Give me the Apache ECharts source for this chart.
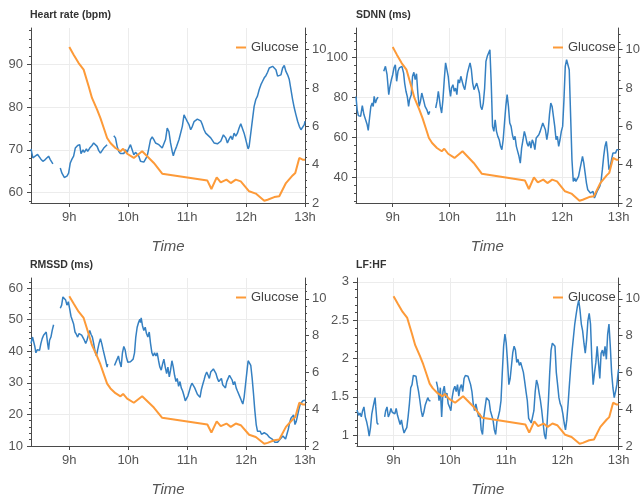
<!DOCTYPE html>
<html>
<head>
<meta charset="utf-8">
<script src="https://cdn.jsdelivr.net/npm/echarts@6/dist/echarts.min.js"></script>
<style>
  html, body { margin: 0; padding: 0; background: #fff; }
  #chart { width: 643px; height: 498px; }
</style>
</head>
<body>
<div id="chart"></div>
<script>
// Time values are minutes after 08:00. A null value marks a gap in the recording.
const hourTicks = [60, 120, 180, 240, 300];

const glucoseTime = [60.0, 64.4, 69.5, 74.6, 79.7, 83.1, 88.3, 91.7, 95.1, 98.5, 101.9, 107.0, 112.1, 114.8, 118.9, 125.7, 134.2, 146.1, 154.6, 200.6, 204.7, 210.1, 214.2, 220.0, 224.4, 229.5, 234.6, 243.1, 249.9, 258.5, 261.9, 268.7, 273.8, 280.6, 287.4, 290.1, 294.2, 297.6, 300.0];
const glucoseVal = [10.14, 9.74, 9.30, 8.96, 8.09, 7.48, 6.87, 6.43, 5.91, 5.39, 5.13, 4.87, 4.70, 4.83, 4.57, 4.35, 4.70, 4.09, 3.53, 3.17, 2.73, 3.34, 3.08, 3.22, 3.04, 3.22, 3.13, 2.61, 2.49, 2.12, 2.17, 2.31, 2.35, 3.04, 3.44, 3.57, 4.35, 4.26, 4.26];
const glucoseMajor = [2, 4, 6, 8, 10];
const glucoseMinor = [2.4, 2.8, 3.2, 3.6, 4.4, 4.8, 5.2, 5.6, 6.4, 6.8, 7.2, 7.6, 8.4, 8.8, 9.2, 9.6, 10.4, 10.8];

// Heart rate (bpm)
const hrTime = [21.0, 22.9, 25.3, 27.7, 29.7, 31.1, 33.1, 35.5, 37.2, 38.9, 40.6, 42.3, 43.3,
  47,
  50.8, 52.5, 54.9, 57.6, 59.3, 61.0, 62.7, 64.4, 66.1, 68.5, 70.6, 71.9, 74.0, 75.3, 77.4, 78.7, 80.8, 82.1, 83.1, 84.8, 86.6, 88.3, 90.0, 91.7, 93.4, 95.1, 96.8, 98.5,
  102,
  105.3, 107.0, 108.7, 110.4, 112.1, 113.8, 115.5, 117.2, 118.9, 120.6, 122.3, 124.0, 125.7, 127.4, 129.1, 130.8, 132.5, 134.2, 135.9, 137.6, 139.3, 141.0, 142.7, 144.4, 146.1, 147.8, 149.5, 151.2, 152.9, 154.6, 156.3, 158.0, 159.7,
  161.4, 163.1, 164.8, 165.9, 167.2, 169.3, 171.7, 173.4,
  175.1, 176.8, 178.5, 180.2, 181.9, 183.6, 185.3, 187.0, 190.4, 193.8, 195.5, 197.2, 198.9, 200.6, 204.0, 207.4, 210.8, 214.2, 216.9,
  219.3, 221.0, 222.7, 224.4, 226.1, 227.8, 229.5, 231.2, 232.9, 234.6, 236.3, 238.0, 239.7, 241.4, 242.1,
  243.1, 244.8, 246.5, 248.2, 249.9, 251.6, 253.3, 255.1, 256.8, 258.5, 260.2, 261.9, 263.6, 265.3, 267.0, 268.7, 270.4, 272.1, 273.8, 275.5, 277.2, 278.9, 280.6, 282.3, 284.0, 285.7, 287.4, 289.1, 290.8, 292.5, 294.2, 295.9, 297.6, 299.3, 300.0];
const hrVal = [70.2, 68.1, 68.5, 68.9, 68.6, 67.8, 67.3, 67.7, 68.1, 68.5, 67.7, 67.3, 66.7,
  null,
  65.7, 64.5, 63.5, 63.8, 64.5, 66.9, 67.8, 68.5, 70.4, 71.0, 71.2, 69.1, 70.0, 69.4, 70.2, 69.6, 70.4, 70.0, 71.0, 71.6, 72.0, 70.8, 69.8, 69.2, 69.6, 70.4, 70.8, 71.2,
  null,
  73.3, 72.8, 70.8, 69.6, 69.1, 68.8, 69.1, 70.0, 69.4, 70.4, 71.2, 70.0, 68.8, 69.4, 69.1, 68.5, 67.3, 67.7, 67.1, 67.3, 68.5, 70.4, 72.4, 73.0, 72.4, 71.6, 72.0, 71.2, 71.6, 70.4, 70.2, 72.4, 75.1,
  74.3, 71.6, 69.6, 68.6, 69.6, 70.8, 72.4, 72.8,
  75.5, 78.2, 77.4, 76.6, 75.9, 74.7, 75.5, 76.6, 77.2, 76.8, 75.9, 74.7, 73.9, 73.5, 72.8, 71.6, 71.4, 72.0, 73.5,
  72.8, 71.6, 72.5, 73.2, 72.4, 73.9, 73.2, 73.9, 75.1, 76.1, 75.9, 73.9, 72.4, 70.8, 70.2,
  70.8, 73.9, 77.1, 80.2, 81.8, 82.6, 84.1, 85.3, 86.1, 86.9, 87.4, 88.2, 89.2, 89.6, 89.6, 89.2, 88.8, 87.3, 86.9, 87.6, 89.2, 89.8, 88.4, 87.6, 86.5, 84.1, 81.8, 79.8, 78.2, 76.7, 75.5, 74.7, 74.7, 75.9, 76.7];
const hrMajor = [60, 70, 80, 90];
const hrMinor = [58, 62, 64, 66, 68, 72, 74, 76, 78, 82, 84, 86, 88, 92, 94, 96, 98];

// SDNN (ms)
const sdnnTime = [21.0, 22.2, 23.5, 25.9, 27.7, 29.4, 31.2, 32.9, 34.0, 35.4, 36.8, 38.2, 39.3, 40.3, 41.7, 43.1, 44.5,
  47.5,
  50.5, 52.3, 54.0, 55.8, 56.8, 58.6, 60.0, 61.4, 62.8, 64.2, 65.6, 67.0, 68.4, 69.8, 71.6, 72.7, 74.1, 75.5, 76.9, 77.9, 79.7, 81.1, 82.5, 83.9, 85.3, 86.7, 88.1, 89.5, 90.9, 92.7, 94.4, 96.2, 98.0, 99.4,
  102.5,
  105.7, 107.1, 108.5, 109.5, 110.6, 112.0, 113.4, 114.8, 116.2, 117.6, 119.0, 120.4, 121.5, 122.5,
  124.0, 125.4, 126.8, 128.2, 129.6, 131.0, 132.4, 133.8, 135.2, 136.6, 138.0, 139.4, 140.8, 142.2, 143.6, 145.0, 146.4, 147.9, 149.3, 150.7, 152.1, 153.5, 154.9, 156.3, 157.7,
  159.1, 160.5, 161.9, 163.3, 164.7, 166.1, 167.5, 168.9, 170.3, 171.7, 173.2, 174.6, 176.0, 177.4, 178.8, 180.2, 181.6, 183.0, 184.4, 185.8, 187.2, 188.6, 190.0, 191.4, 192.8,
  194.2, 195.6, 197.0, 198.5, 199.9, 201.3, 202.7, 204.1, 205.5, 206.9, 208.3, 209.7, 211.1, 212.5, 213.9, 215.3, 216.7, 218.1, 219.5, 220.9, 222.3, 223.8, 225.2, 226.6, 228.0,
  229.4, 230.8, 232.2, 233.6, 235.0, 236.4, 237.8, 239.2, 240.6, 242.0, 243.4, 244.8, 246.2, 247.6, 249.1, 250.5, 251.9, 253.3, 254.7, 256.1, 257.5, 258.9, 260.3, 261.7, 263.1,
  264.5, 265.9, 267.3, 268.7, 270.1, 271.5, 272.9, 274.4, 275.8, 277.2, 278.6, 280.0, 281.4, 282.8, 284.2, 285.6, 287.0, 288.4, 289.8, 291.2, 292.6, 294.0, 295.4, 296.8, 298.2,
  300.0];
const sdnnVal = [80.4, 73.8, 70.8, 70.4, 75.8, 71.3, 70.4, 66.2, 63.4, 69.6, 75.4, 77.1, 75.4, 80.4, 77.1, 79.1, 80.1,
  null,
  93.0, 95.5, 91.3, 81.3, 84.6, 88.8, 91.3, 94.7, 96.3, 88.0, 93.0, 94.7, 95.5, 95.5, 92.1, 87.1, 83.0, 80.4, 75.4, 78.8, 81.3, 90.5, 92.5, 88.8, 91.8, 82.1, 75.4, 77.9, 82.1, 78.8, 75.4, 73.8, 71.3, 72.9,
  null,
  74.6, 77.9, 83.0, 79.6, 75.4, 72.1, 78.8, 88.8, 97.2, 96.3, 90.5, 83.8, 80.4, 84.6,
  86.3, 83.0, 84.6, 81.3, 88.8, 87.1, 90.5, 91.3, 85.5, 83.8, 88.0, 92.1, 94.7, 97.2, 93.8, 87.1, 83.8, 85.5, 87.1, 86.3, 82.1, 75.4, 73.8, 77.1, 84.6,
  98.0, 100.5, 101.3, 103.8, 87.1, 65.4, 62.9, 68.7, 62.9, 60.4, 58.7, 55.4, 53.7, 58.7, 67.1, 75.4, 81.3, 75.4, 67.1, 65.4, 61.2, 58.7, 60.4, 55.4, 52.9,
  50.4, 47.0, 54.5, 58.7, 62.9, 60.4, 57.0, 55.4, 57.9, 54.5, 58.7, 57.0, 53.7, 59.6, 60.4, 61.2, 62.9, 62.1, 67.1, 67.9, 63.7, 58.7, 62.9, 71.3, 77.1,
  75.4, 70.4, 65.4, 58.7, 60.4, 55.4, 58.7, 62.9, 65.4, 78.8, 95.5, 98.8, 98.8, 93.8, 70.4, 48.7, 37.8, 39.5, 37.8, 37.0, 40.3, 43.7, 47.0, 50.4, 47.0,
  42.0, 37.0, 33.6, 32.8, 32.0, 31.1, 32.8, 29.5, 31.1, 32.8, 32.0, 35.3, 37.8, 43.7, 50.4, 55.4, 57.9, 52.0, 43.7, 45.3, 48.7, 52.0, 52.9, 52.0, 53.7,
  53.7];
const sdnnMajor = [40, 60, 80, 100];
const sdnnMinor = [28, 32, 36, 44, 48, 52, 56, 64, 68, 72, 76, 84, 88, 92, 96, 104, 108, 112];

// RMSSD (ms)
const rmssdTime = [21.0, 22.6, 23.6, 24.9, 26.0, 27.3, 28.3, 29.7, 31.1, 32.4, 33.8, 35.2, 36.5, 37.9, 38.9, 39.9, 41.3, 42.6, 44.0,
  47.5,
  50.8, 52.2, 53.5, 54.9, 56.3, 57.6, 59.0, 60.3, 61.7, 63.1, 64.4, 65.8, 67.1, 68.5, 69.9, 71.2, 72.6, 74.0, 75.3, 76.7, 78.0, 79.4, 80.8, 82.1, 83.5, 84.8, 86.2, 87.6, 88.9, 90.3, 91.7, 93.0, 94.4, 95.7, 97.1, 98.5, 99.1,
  102.5,
  106.0, 107.3, 108.7, 110.0, 111.4, 112.8, 114.1, 115.5, 116.8, 118.2, 119.6, 120.9, 122.3, 123.7, 125.0, 126.4, 127.7, 129.1, 130.5, 131.8,
  132.5, 133.2,
  134.5, 135.9, 137.3, 138.6, 140.0, 141.4, 142.7, 144.1, 145.4, 146.8, 148.2, 149.5, 150.9, 152.2, 153.6, 155.0, 156.3, 157.7, 159.1, 160.4, 161.8, 163.1, 164.5, 165.9, 167.2,
  168.6, 169.9, 171.3, 172.7, 174.0, 175.4, 176.8, 178.1, 179.5, 180.8, 182.2, 183.6, 184.9, 186.3, 187.7, 189.0, 190.4, 191.7, 193.1, 194.5, 195.8, 197.2, 198.5, 199.9, 201.3,
  202.6, 204.0, 205.4, 206.7, 208.1, 209.4, 210.8, 212.2, 213.5, 214.9, 216.2, 217.6, 219.0, 220.3, 221.7, 223.1, 224.4, 225.8, 227.1, 228.5, 229.9, 231.2, 232.6, 233.9, 235.3,
  236.7, 238.0, 239.4, 240.8, 242.1, 243.5, 244.8, 246.2, 247.6, 248.9, 250.3, 251.6, 253.0, 254.4, 255.7, 257.1, 258.5, 259.8, 261.2, 262.5, 263.9, 265.3, 266.6, 268.0, 269.3,
  270.7, 272.1, 273.4, 274.8, 276.2, 277.5, 278.9, 280.2, 281.6, 283.0, 284.3, 285.7, 287.0, 288.4, 289.8, 291.1, 292.5, 293.9, 295.2, 296.6, 297.9, 299.3,
  300.0];
const rmssdVal = [42.5, 44.5, 44.0, 41.5, 39.5, 40.5, 41.0, 40.3, 42.5, 44.0, 45.1, 44.5, 46.1, 42.5, 40.5, 43.5, 44.5, 46.6, 48.4,
  null,
  53.6, 54.6, 57.2, 57.5, 56.2, 54.6, 55.7, 53.6, 51.1, 50.6, 48.6, 46.1, 45.4, 44.5, 45.6, 46.1, 45.1, 44.5, 43.5, 42.5, 43.5, 45.1, 46.6, 45.4, 44.5, 42.5, 40.0, 38.5, 40.5, 42.5, 44.0, 42.5, 40.5, 40.3, 37.0, 35.0, 36.0,
  null,
  35.5, 36.0, 37.5, 38.5, 36.5, 35.0, 39.5, 41.5, 40.5, 38.0, 36.5, 37.0, 36.7, 36.7, 37.5, 39.5, 44.5, 47.6, 49.1, 50.1,
  49.1, 50.6,
  48.1, 46.6, 47.6, 45.6, 44.5, 46.1, 42.5, 39.5, 38.5, 39.5, 38.5, 39.5, 37.0, 35.0, 34.0, 36.0, 37.5, 35.0, 32.9, 35.0, 31.9, 34.0, 37.0, 35.0, 32.4,
  30.4, 31.4, 28.9, 30.4, 28.4, 27.4, 25.9, 24.3, 23.8, 25.9, 27.4, 28.9, 29.9, 29.4, 28.4, 27.9, 26.4, 25.9, 25.4, 27.9, 29.4, 30.9, 32.4, 33.4, 32.4,
  31.4, 33.4, 32.9, 34.4, 33.9, 32.9, 31.4, 30.4, 29.9, 31.4, 29.4, 28.9, 28.4, 30.4, 31.4, 32.4, 32.9, 30.9, 29.4, 30.4, 28.4, 27.4, 26.9, 25.4, 24.3,
  23.3, 25.4, 29.4, 33.4, 37.0, 37.0, 35.5, 31.4, 26.4, 21.3, 16.8, 14.7, 14.2, 14.7, 13.7, 14.2, 14.2, 13.7, 13.7, 13.2, 12.7, 12.2, 12.2, 12.2, 11.2,
  10.9, 11.2, 11.7, 12.2, 12.7, 13.2, 13.0, 12.2, 12.4, 15.3, 17.3, 18.8, 19.3, 19.8, 16.8, 17.8, 19.8, 21.8, 23.3, 23.8, 24.3, 24.8,
  24.5];
const rmssdMajor = [10, 20, 30, 40, 50, 60];
const rmssdMinor = [12, 14, 16, 18, 22, 24, 26, 28, 32, 34, 36, 38, 42, 44, 46, 48, 52, 54, 56, 58, 62];

// LF:HF
const lfhfTime = [21.0, 22.8, 24.2, 25.6, 27.0, 28.4, 29.8, 31.2, 32.6, 34.0, 35.4, 36.8, 38.2, 39.6, 40.3, 41.0, 42.4, 43.8,
  47.5,
  50.5, 51.6, 53.0, 54.4, 55.8, 57.2, 58.6, 60.0, 61.4, 62.8, 64.2, 65.6, 67.0, 68.4, 69.8, 71.2, 72.7, 74.1, 75.5, 76.9, 78.3, 79.7, 81.1, 82.5, 83.9, 85.3, 86.7, 88.1, 89.5, 90.9, 92.3, 93.7, 95.1, 96.5, 98.0, 99.4,
  102.5,
  105.7, 107.1, 108.5, 109.9, 111.3, 112.7, 114.1, 115.5, 116.9, 118.3, 119.7, 121.1, 122.5, 123.9, 125.4, 126.8, 128.2, 129.6, 131.0, 132.4,
  133.8, 135.2, 136.6, 138.0, 139.4, 140.8, 142.2, 143.6, 145.0, 146.4, 147.8, 149.3, 150.7, 152.1, 153.5, 154.9, 156.3, 157.7, 159.1, 160.5,
  161.9, 163.3, 164.7, 166.1, 167.5, 168.9, 170.3, 171.7, 173.2, 174.6, 176.0, 177.4, 178.8, 180.2, 181.6, 183.0, 184.4, 185.8, 187.2, 188.6,
  190.0, 191.4, 192.8, 194.2, 195.6, 197.0, 198.5, 199.9, 201.3, 202.7, 204.1, 205.5, 206.9, 208.3, 209.7, 211.1, 212.5, 213.9, 215.3, 216.7,
  218.1, 219.5, 220.9, 222.3, 223.8, 225.2, 226.6, 228.0, 229.4, 230.8, 232.2, 233.6, 235.0, 236.4, 237.8, 239.2, 240.6, 242.0, 243.4, 244.8,
  246.2, 247.6, 249.1, 250.5, 251.9, 253.3, 254.7, 256.1, 257.5, 258.9, 260.3, 261.7, 263.1, 264.5, 265.9, 267.3, 268.7, 270.1, 271.5, 272.9,
  274.4, 275.8, 277.2, 278.6, 280.0, 281.4, 282.8, 284.2, 285.6, 287.0, 288.4, 289.8, 291.2, 292.6, 294.0, 295.4, 296.8, 298.2, 299.6,
  300.0];
const lfhfVal = [1.33, 1.26, 1.29, 1.24, 1.32, 1.37, 1.24, 1.18, 1.10, 0.99, 1.10, 1.28, 1.37, 1.45, 1.49, 1.37, 1.16, 1.14,
  null,
  1.24, 1.32, 1.37, 1.24, 1.28, 1.35, 1.30, 1.32, 1.28, 1.35, 1.26, 1.24, 1.14, 1.20, 1.10, 1.03, 1.07, 1.10, 1.24, 1.41, 1.62, 1.66, 1.78, 1.80, 1.77, 1.66, 1.57, 1.45, 1.32, 1.24, 1.30, 1.39, 1.41, 1.49, 1.45, 1.45,
  null,
  1.70, 1.62, 1.45, 1.62, 1.24, 1.57, 1.64, 1.49, 1.55, 1.41, 1.37, 1.32, 1.49, 1.59, 1.64, 1.57, 1.66, 1.51, 1.62, 1.66,
  1.57, 1.74, 1.78, 1.76, 1.77, 1.76, 1.66, 1.57, 1.41, 1.32, 1.41, 1.32, 1.24, 1.28, 1.07, 1.01, 1.24, 1.37, 1.49, 1.51,
  1.45, 1.32, 1.30, 1.20, 1.07, 1.01, 1.18, 1.24, 1.32, 1.45, 1.82, 2.16, 2.32, 2.20, 1.95, 1.66, 1.74, 1.91, 2.08, 2.16,
  2.11, 1.95, 1.99, 1.91, 1.95, 1.93, 1.82, 1.70, 1.57, 1.45, 1.22, 1.24, 1.16, 1.14, 1.32, 1.57, 1.72, 1.66, 1.55, 1.45,
  1.32, 1.16, 1.01, 0.95, 1.16, 1.45, 1.82, 2.11, 2.20, 2.22, 2.16, 1.82, 1.66, 1.49, 1.41, 1.37, 1.28, 1.16, 1.07, 1.20,
  1.41, 1.66, 1.91, 2.11, 2.28, 2.45, 2.57, 2.68, 2.76, 2.63, 2.45, 2.36, 2.20, 2.07, 2.24, 2.49, 2.59, 2.45, 1.99, 1.66,
  1.82, 1.95, 2.16, 1.95, 1.74, 2.07, 2.11, 2.03, 2.16, 1.99, 2.32, 2.45, 2.16, 1.82, 1.62, 1.49, 1.57, 1.66, 1.82,
  1.86];
const lfhfMajor = [1, 1.5, 2, 2.5, 3];
const lfhfMinor = [0.9, 1.1, 1.2, 1.3, 1.4, 1.6, 1.7, 1.8, 1.9, 2.1, 2.2, 2.3, 2.4, 2.6, 2.7, 2.8, 2.9];

const BLUE = '#3580c2';
const ORANGE = '#fd9a38';
const AXIS = '#4a4a4a';
const LABEL = '#555';
const GRIDLINE = '#ececec';
const FONT = 'Liberation Sans, Arial, sans-serif';

const panels = [
  { title: 'Heart rate (bpm)', time: hrTime, val: hrVal, min: 57.5, max: 98.6, major: hrMajor, minor: hrMinor,
    grid: { left: 31, top: 28, width: 274, height: 175 }, legend: { left: 236, top: 41 }, head: { left: 30, top: 10 } },
  { title: 'SDNN (ms)', time: sdnnTime, val: sdnnVal, min: 27, max: 114.7, major: sdnnMajor, minor: sdnnMinor,
    grid: { left: 356, top: 28, width: 266, height: 175 }, legend: { left: 553, top: 41 }, head: { left: 356, top: 10 } },
  { title: 'RMSSD (ms)', time: rmssdTime, val: rmssdVal, min: 10, max: 63.2, major: rmssdMajor, minor: rmssdMinor,
    grid: { left: 31, top: 278, width: 274, height: 176 }, legend: { left: 236, top: 291 }, head: { left: 30, top: 260 } },
  { title: 'LF:HF', time: lfhfTime, val: lfhfVal, min: 0.86, max: 3.05, major: lfhfMajor, minor: lfhfMinor,
    grid: { left: 357, top: 278, width: 265, height: 176 }, legend: { left: 553, top: 291 }, head: { left: 356, top: 260 } }
];

function pairs(times, vals) {
  return times.map((t, i) => [t, vals[i] == null ? '-' : vals[i]]);
}

function valueAxis(p, gi, opts) {
  return Object.assign({
    type: 'value', gridIndex: gi, scale: true,
    axisLine: { show: true, onZero: false, lineStyle: { color: AXIS, width: 1 } },
    splitLine: { show: false },
    axisLabel: { show: false },
    axisTick: { show: false }
  }, opts);
}

const option = {
  animation: false,
  backgroundColor: '#fff',
  title: [], legend: [], grid: [], xAxis: [], yAxis: [], series: []
};

panels.forEach((p, gi) => {
  option.title.push({
    text: p.title, left: p.head.left, top: p.head.top, padding: 0,
    textStyle: { fontFamily: FONT, fontSize: 10.5, fontWeight: 'bold', color: '#333' }
  });
  option.legend.push({
    data: ['Glucose'], left: p.legend.left, top: p.legend.top, padding: 0,
    icon: 'rect', itemWidth: 10, itemHeight: 2, itemGap: 0,
    textStyle: { fontFamily: FONT, fontSize: 13, color: '#444' }
  });
  option.grid.push(Object.assign({ containLabel: false }, p.grid));

  option.xAxis.push({
    type: 'value', gridIndex: gi, min: 21, max: 300,
    name: 'Time', nameLocation: 'middle', nameGap: 36,
    nameTextStyle: { fontFamily: FONT, fontSize: 15, fontStyle: 'italic', color: LABEL },
    axisLine: { show: true, onZero: false, lineStyle: { color: AXIS, width: 1 } },
    axisTick: { show: true, length: 4, customValues: hourTicks, lineStyle: { color: AXIS } },
    axisLabel: { customValues: hourTicks, margin: 8, fontFamily: FONT, fontSize: 13, color: LABEL,
      formatter: v => (8 + v / 60) + 'h' },
    splitLine: { show: true, lineStyle: { color: GRIDLINE, width: 1 } }
  });

  const base = gi * 4;
  // left: major ticks with labels and grid lines
  option.yAxis.push(valueAxis(p, gi, {
    position: 'left', min: p.min, max: p.max,
    axisTick: { show: true, length: 4, customValues: p.major, lineStyle: { color: AXIS } },
    axisLabel: { show: true, customValues: p.major, margin: 8, fontFamily: FONT, fontSize: 13, color: LABEL },
    splitLine: { show: true, lineStyle: { color: GRIDLINE, width: 1 } }
  }));
  // left: minor ticks
  option.yAxis.push(valueAxis(p, gi, {
    position: 'left', min: p.min, max: p.max,
    axisLine: { show: false },
    axisTick: { show: true, length: 2, customValues: p.minor, lineStyle: { color: AXIS } }
  }));
  // right: glucose scale
  option.yAxis.push(valueAxis(p, gi, {
    position: 'right', min: 2, max: 11.13,
    axisTick: { show: true, length: 4, customValues: glucoseMajor, lineStyle: { color: AXIS } },
    axisLabel: { show: true, customValues: glucoseMajor, margin: 7, fontFamily: FONT, fontSize: 13, color: LABEL }
  }));
  option.yAxis.push(valueAxis(p, gi, {
    position: 'right', min: 2, max: 11.13,
    axisLine: { show: false },
    axisTick: { show: true, length: 2, customValues: glucoseMinor, lineStyle: { color: AXIS } }
  }));

  option.series.push({
    type: 'line', xAxisIndex: gi, yAxisIndex: base,
    data: pairs(p.time, p.val), showSymbol: false, connectNulls: false,
    lineStyle: { color: BLUE, width: 1.5 }, itemStyle: { color: BLUE }, z: 2
  });
  option.series.push({
    type: 'line', name: 'Glucose', xAxisIndex: gi, yAxisIndex: base + 2,
    data: pairs(glucoseTime, glucoseVal), showSymbol: false,
    lineStyle: { color: ORANGE, width: 2 }, itemStyle: { color: ORANGE }, z: 3
  });
});

const chart = echarts.init(document.getElementById('chart'), null, { renderer: 'canvas' });
chart.setOption(option);
</script>
</body>
</html>
